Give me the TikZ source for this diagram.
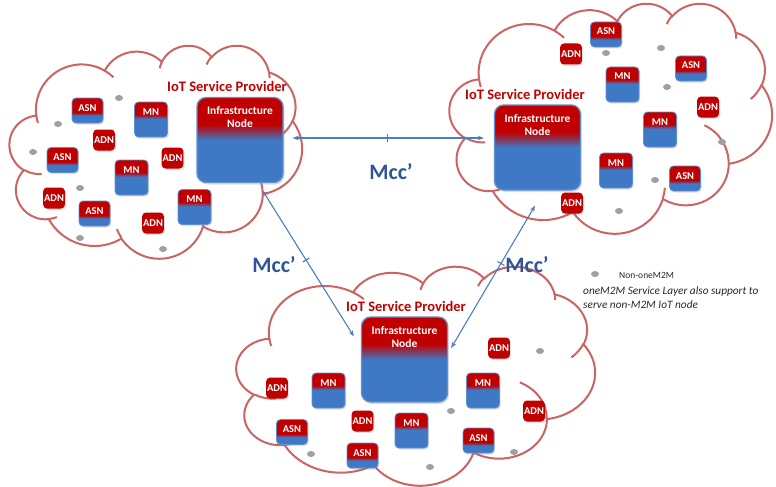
\documentclass[tikz,border=0pt]{standalone}
\usepackage{fontspec}
\setmainfont{Carlito}
\usetikzlibrary{arrows.meta,shadows}

\definecolor{iored}{RGB}{192,0,0}
\definecolor{ioblue}{RGB}{63,121,198}
\definecolor{boxedge}{RGB}{95,145,210}
\definecolor{arrowblue}{RGB}{74,126,193}
\definecolor{mccblue}{RGB}{47,85,151}
\definecolor{cloudred}{RGB}{204,100,100}
\definecolor{dotgray}{RGB}{160,160,160}
\definecolor{legendtext}{RGB}{40,40,40}

% red caption band on top, blue body below
\pgfdeclareverticalshading{infrashade}{100bp}{color(0bp)=(ioblue); color(50bp)=(ioblue); color(59bp)=(iored); color(100bp)=(iored)}
\pgfdeclareverticalshading{mnshade}{100bp}{color(0bp)=(ioblue); color(51bp)=(ioblue); color(57bp)=(iored); color(100bp)=(iored)}
\pgfdeclareverticalshading{asnshade}{100bp}{color(0bp)=(ioblue); color(40bp)=(ioblue); color(46bp)=(iored); color(100bp)=(iored)}

% one lobe of the cloud: radii, start angle and sweep (visual angles)
\newcommand\cloudcalc[4]{%
  \pgfmathsetmacro\cloudA{atan2((#1)*sin(#3),(#2)*cos(#3))}%
  \pgfmathsetmacro\cloudB{atan2((#1)*sin((#3)+(#4)),(#2)*cos((#3)+(#4)))}%
  \pgfmathsetmacro\cloudC{\cloudB-\cloudA}%
  \pgfmathsetmacro\cloudC{(((#4)>0) && (\cloudC<0)) ? (\cloudC+360) : ((((#4)<0) && (\cloudC>0)) ? (\cloudC-360) : \cloudC)}%
  \xdef\cloudT{\cloudA}\xdef\cloudD{\cloudC}%
}
\newcommand\cloudarc[4]{\pgfextra{\cloudcalc{#1}{#2}{#3}{#4}} arc[start angle=\cloudT, delta angle=\cloudD, x radius=#1, y radius=#2]}

% cloud outline in a 432 x 432 box
\newcommand\cloudoutline{(39,143.70)
  \cloudarc{67.53}{91.90}{-190.48748}{123.78053}
  \cloudarc{53.33}{72.67}{-144.10238}{89.94523}
  \cloudarc{43.65}{59.45}{-145.80792}{99.72302}
  \cloudarc{48.57}{65.95}{-130.98607}{117.24173}
  \cloudarc{53.33}{72.73}{-78.70888}{109.02692}
  \cloudarc{67.75}{92.20}{-46.26725}{130.26900}
  \cloudarc{57.85}{78.67}{0.62502}{114.03333}
  \cloudarc{67.52}{92.15}{22.45160}{115.17255}
  \cloudarc{77.20}{105.43}{66.24263}{76.81952}
  \cloudarc{43.60}{59.18}{-274.94208}{146.73557}
  \cloudarc{43.45}{59.45}{-246.82850}{152.51885}
  -- cycle}
% short inner strokes of the cloud
\newcommand\cloudinner{%
  (46.93,261.77) \cloudarc{43.45}{59.45}{86.74200}{26.42950}
  (69.28,348.99) \cloudarc{43.60}{59.18}{73.61047}{11.44747}
  (164.78,390.90) \cloudarc{67.52}{92.15}{137.62415}{14.08110}
  (288.27,347.51) \cloudarc{67.52}{92.15}{6.45327}{15.99835}
  (341.29,229.54) \cloudarc{57.85}{78.67}{-70.29235}{70.91737}
  (417.98,153.54) \cloudarc{53.33}{72.73}{30.31803}{27.75150}
  (383.24,54.26) \cloudarc{48.57}{65.95}{-13.74433}{14.85890}
  (290.78,39.52) \cloudarc{48.57}{65.95}{-149.18145}{18.19537}
  (221.41,47.20) \cloudarc{43.65}{59.45}{-163.49427}{17.68635}
  (140.00,51.92) \cloudarc{67.53}{91.90}{-66.70695}{12.31935}
  (41.27,157.89) \cloudarc{67.53}{91.90}{157.65435}{11.85817}}

% cloud with top-left corner (#1,#2), width #3, height #4
\newcommand\drawcloud[4]{%
  \begin{scope}[shift={(#1,#2)}, xscale=#3/432, yscale=#4/432]
    \path[cloudline, fill=white] \cloudoutline;
    \path[cloudline] \cloudinner;
  \end{scope}}

\tikzset{
  cloudline/.style={draw=cloudred, line width=2pt},
  boxbase/.style={rounded corners=4pt, inner sep=2pt, text=white,
    font=\bfseries\fontsize{10.5}{12}\selectfont,
    drop shadow={opacity=0.25, shadow xshift=1.2pt, shadow yshift=-1.5pt}},
  mnbox/.style={boxbase, draw=boxedge, line width=0.8pt, shading=mnshade,
    minimum width=33pt, text height=11pt, text depth=20pt},
  asnbox/.style={boxbase, draw=boxedge, line width=0.8pt, shading=asnshade,
    minimum width=31pt, text height=11pt, text depth=10pt},
  adnbox/.style={boxbase, fill=iored, minimum width=21pt, minimum height=21pt, inner sep=1pt},
  infra/.style={rounded corners=9pt, shading=infrashade, draw=boxedge, line width=1.3pt,
    minimum width=86pt, minimum height=85pt, inner sep=0pt,
    drop shadow={opacity=0.25, shadow xshift=1.5pt, shadow yshift=-2pt}},
  infralabel/.style={text=white, font=\bfseries\fontsize{11.5}{13}\selectfont,
    align=center, anchor=north, inner sep=0pt},
  title/.style={text=iored, font=\bfseries\fontsize{14.5}{16}\selectfont, inner sep=0pt},
  mcclabel/.style={text=mccblue, font=\bfseries\fontsize{22}{24}\selectfont, inner sep=0pt},
  mcc/.style={draw=arrowblue, line width=1.1pt,
    {Stealth[length=6pt,width=4.5pt]}-{Stealth[length=6pt,width=4.5pt]}},
  tick/.style={draw=arrowblue, line width=1.1pt, inner sep=0pt,
    minimum width=0pt, minimum height=8pt, sloped},
  grain/.style={fill=dotgray},
  legend/.style={text=legendtext, font=\fontsize{9.5}{11}\selectfont, inner sep=0pt, anchor=west},
  legendnote/.style={legend, font=\itshape\fontsize{11.3}{14}\selectfont},
}

\begin{document}
\begin{tikzpicture}[x=1pt, y=-1pt]
\useasboundingbox (0,0) rectangle (776,487);

% the three provider clouds
\drawcloud{10}{45}{292}{213}
\drawcloud{450}{3}{322}{230}
\drawcloud{237}{266}{358}{219}

% non-oneM2M devices
\foreach \x/\y in {119/98, 58/124, 33/152, 80/188, 80/238, 163/249,
                   606/53, 661/48, 667/87, 722/142, 655/180, 619/211,
                   540/351, 451/411, 311/454, 430/467, 514/452, 595/274}
  \path[grain] (\x,\y) ellipse [x radius=4, y radius=3];

% left provider
\node[title] (tl) at (227,86) {IoT Service Provider};
\node[infra] (li) at (240,140) {};
\node[infralabel] (lil) at ([yshift=-9.5pt]li.north) {Infrastructure\\Node};
\foreach \x/\y [count=\i] in {87.5/110.5, 62.5/160, 94.5/213.5}
  \node[asnbox] (la\i) at (\x,\y) {ASN};
\foreach \x/\y [count=\i] in {151/119.5, 131.5/177.5, 194.5/207}
  \node[mnbox] (lm\i) at (\x,\y) {MN};
\foreach \x/\y [count=\i] in {104/140, 172.5/158, 54/198, 153/223}
  \node[adnbox] (ld\i) at (\x,\y) {ADN};

% right provider
\node[title] (tr) at (525,94) {IoT Service Provider};
\node[infra] (ri) at (537.5,147.5) {};
\node[infralabel] (ril) at ([yshift=-9.5pt]ri.north) {Infrastructure\\Node};
\foreach \x/\y [count=\i] in {606/34.5, 691/68.5, 685/178.5}
  \node[asnbox] (ra\i) at (\x,\y) {ASN};
\foreach \x/\y [count=\i] in {622.5/84.5, 660/129.5, 616/170.5}
  \node[mnbox] (rm\i) at (\x,\y) {MN};
\foreach \x/\y [count=\i] in {571/54, 708/107, 572/203}
  \node[adnbox] (rd\i) at (\x,\y) {ADN};

% bottom provider
\node[title] (tb) at (406,306) {IoT Service Provider};
\node[infra] (bi) at (404.5,359.5) {};
\node[infralabel] (bil) at ([yshift=-9.5pt]bi.north) {Infrastructure\\Node};
\foreach \x/\y [count=\i] in {292/432, 362.5/455.5, 478.5/440.5}
  \node[asnbox] (ba\i) at (\x,\y) {ASN};
\foreach \x/\y [count=\i] in {328.5/390.5, 483/390.5, 411.5/430.5}
  \node[mnbox] (bm\i) at (\x,\y) {MN};
\foreach \x/\y [count=\i] in {499/348, 277/388, 534/411, 362.5/421}
  \node[adnbox] (bd\i) at (\x,\y) {ADN};

% Mcc' reference points between infrastructure nodes
\draw[mcc] ([xshift=9pt,yshift=2pt]li.east) -- node[tick, pos=0.497] (k1) {} ([xshift=-10pt,yshift=9.5pt]ri.west);
\draw[mcc] ([xshift=-21pt,yshift=-7.5pt]li.south east) -- node[tick, pos=0.476] (k2) {} ([xshift=-7pt,yshift=-20pt]bi.north west);
\draw[mcc] ([xshift=3pt,yshift=11.5pt]bi.east) -- node[tick, pos=0.594] (k3) {} ([xshift=-2.5pt,yshift=-15pt]ri.south);
\node[mcclabel] (m1) at (391,172) {Mcc’};
\node[mcclabel] (m2) at (274,265) {Mcc’};
\node[mcclabel] (m3) at (527,265) {Mcc’};

% legend
\node[legend] (lg1) at (619,275) {Non-oneM2M};
\node[legendnote] (lg2) at (583,291) {oneM2M Service Layer also support to};
\node[legendnote] (lg3) at (583,305) {serve non-M2M IoT node};
\end{tikzpicture}
\end{document}
